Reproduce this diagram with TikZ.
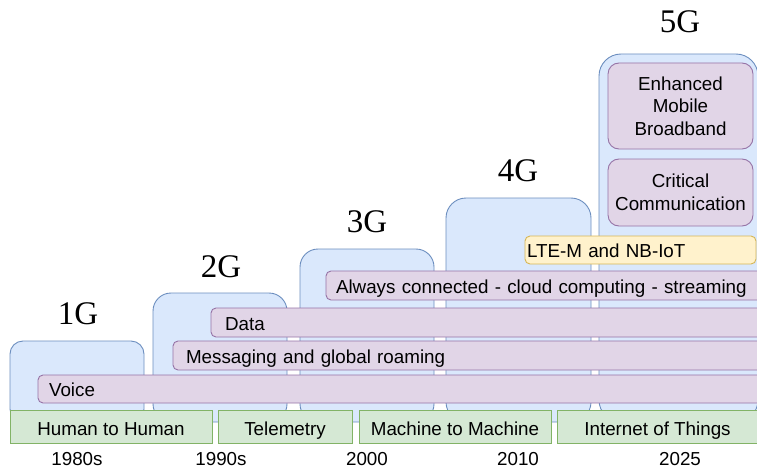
\documentclass[tikz,border=0pt]{standalone}
\usepackage{fontspec}
\setmainfont{Liberation Sans}
\newfontfamily\genfont{Liberation Serif}
\begin{document}
\begin{tikzpicture}[x=1pt,y=-1pt,
  base/.style={draw, line width=0.9pt, inner sep=0pt, outer sep=0pt, anchor=north west},
  txt/.style={font=\fontsize{18.8}{22.5}\selectfont},
  gen/.style={base, fill={rgb,255:red,218;green,232;blue,252}, draw={rgb,255:red,108;green,142;blue,191}},
  feat/.style={base, txt, fill={rgb,255:red,225;green,213;blue,231}, draw={rgb,255:red,150;green,115;blue,166},
    rounded corners=5pt},
  bar/.style={feat, text height=15pt, text depth=0pt, align=left},
  iot/.style={base, txt, fill={rgb,255:red,255;green,242;blue,204}, draw={rgb,255:red,214;green,182;blue,86},
    rounded corners=5pt, text height=15pt, text depth=0pt, align=left},
  era/.style={base, txt, fill={rgb,255:red,213;green,232;blue,212}, draw={rgb,255:red,130;green,179;blue,102},
    text height=17pt, text depth=0pt},
  gentext/.style={font=\genfont\fontsize{33}{36}\selectfont, inner sep=0pt, anchor=base},
  year/.style={txt, inner sep=0pt, anchor=base}
]
\useasboundingbox (0,0) rectangle (757,468);

% generation blocks
\node[gen, rounded corners=13pt, minimum width=134pt, minimum height=81pt] (b1) at (10,341) {};
\node[gen, rounded corners=18pt, minimum width=134pt, minimum height=129pt] (b2) at (153,293) {};
\node[gen, rounded corners=18pt, minimum width=134pt, minimum height=173pt] (b3) at (300,249) {};
\node[gen, rounded corners=20pt, minimum width=145pt, minimum height=224pt] (b4) at (446,198) {};
\node[gen, rounded corners=22pt, minimum width=159pt, minimum height=368pt] (b5) at (599,54) {};

% generation titles
\node[gentext] (t1) at (78,324) {1G};
\node[gentext] (t2) at (221,277) {2G};
\node[gentext] (t3) at (367,232) {3G};
\node[gentext] (t4) at (518,181) {4G};
\node[gentext] (t5) at (680,33) {5G};

% services
\node[bar, minimum width=720pt, minimum height=28pt, text width=709pt, inner xsep=11pt] (voice) at (38,375) {Voice};
\node[bar, minimum width=585pt, minimum height=29pt, text width=571pt, inner xsep=13pt] (msg) at (173,341) {Messaging and global roaming};
\node[bar, minimum width=547pt, minimum height=29pt, text width=533pt, inner xsep=14pt] (data) at (211,308) {Data};
\node[bar, minimum width=432pt, minimum height=29pt, text width=422pt, inner xsep=10pt] (cloud) at (326,271) {Always connected - cloud computing - streaming};
\node[iot, minimum width=231pt, minimum height=28pt, text width=227pt, inner xsep=2pt] (lte) at (525,236) {LTE-M and NB-IoT};
\node[feat, rounded corners=11pt, minimum width=145pt, minimum height=86pt, align=center] (embb) at (608,63) {Enhanced\\Mobile\\Broadband};
\node[feat, rounded corners=11pt, minimum width=145pt, minimum height=67pt, align=center] (crit) at (608,159) {Critical\\Communication};

% usage eras
\node[era, minimum width=202pt, minimum height=33pt] (e1) at (10,410) {Human to Human};
\node[era, minimum width=134pt, minimum height=33pt] (e2) at (218,410) {Telemetry};
\node[era, minimum width=192pt, minimum height=33pt] (e3) at (359,410) {Machine to Machine};
\node[era, minimum width=201pt, minimum height=33pt] (e4) at (557,410) {Internet of Things};

% timeline
\node[year] (y1) at (77,465) {1980s};
\node[year] (y2) at (221,465) {1990s};
\node[year] (y3) at (367,465) {2000};
\node[year] (y4) at (518,465) {2010};
\node[year] (y5) at (680,465) {2025};
\end{tikzpicture}
\end{document}
